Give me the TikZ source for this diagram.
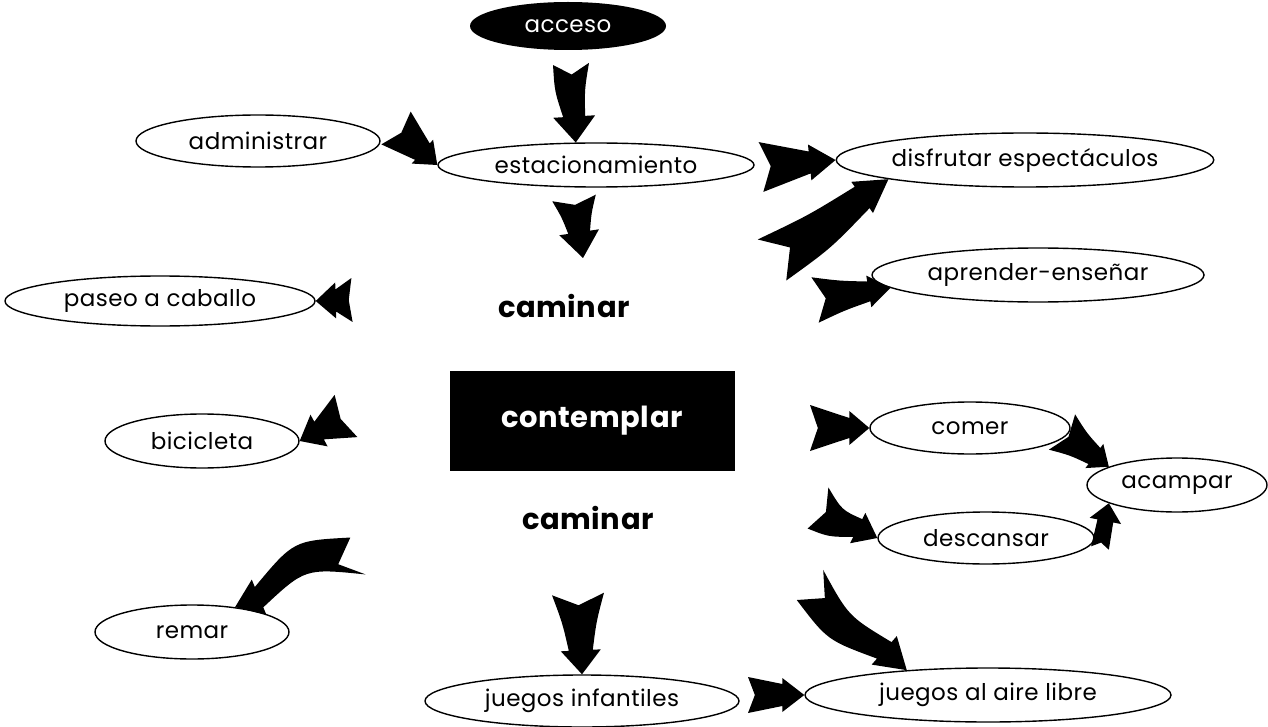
\documentclass[tikz,border=0pt]{standalone}
\usepackage{fontspec}
\setmainfont{Poppins}[LetterSpace=2]
\usetikzlibrary{shapes.geometric,calc}
% #1 tail, #2 tip, #3 head length, #4 tail half-width, #5 mid half-width,
% #6 body half-width at head, #7 head half-width, #8 bulge (left +)
\newcommand{\fatarrow}[8]{%
  \coordinate (fk) at ($(#2)!#3!(#1)$);
  \fill[black]
    ($(#1)!#4!90:(fk)$)
    .. controls ($(#1)!0.5!(fk) + (#1)!#8!90:(fk) - (#1) + (#1)!#5!90:(fk) - (#1)$) ..
    ($(fk)!#6!90:(#2)$) -- ($(fk)!#7!90:(#2)$) -- (#2) -- ($(fk)!#7!-90:(#2)$) -- ($(fk)!#6!-90:(#2)$)
    .. controls ($(#1)!0.5!(fk) + (#1)!#8!90:(fk) - (#1) + (#1)!#5!-90:(fk) - (#1)$) ..
    ($(#1)!#4!-90:(fk)$) -- ($(#1)!0.2!(fk)$) -- cycle;
}
\begin{document}
\begin{tikzpicture}[x=1pt,y=1pt,
  oval/.style={ellipse, draw=black, line width=1.4pt, inner sep=0pt, font=\fontsize{23}{26}\selectfont},
  boldlabel/.style={inner sep=0pt, font=\fontsize{29}{32}\selectfont\bfseries},
]
\useasboundingbox (0,0) rectangle (1268,-727);
\fill[white] (0,0) rectangle (1268,-727);

% nodes
\node[ellipse, fill=black, minimum width=196pt, minimum height=48pt, inner sep=0pt, text=white, font=\fontsize{23}{26}\selectfont] (acc) at (568,-26) {acceso};
\node[oval, minimum width=316pt, minimum height=44pt] (est) at (596,-165) {estacionamiento};
\node[oval, minimum width=244pt, minimum height=52pt] (adm) at (258,-141) {administrar};
\node[oval, minimum width=350pt, minimum height=54pt] (dis) at (1025,-160) {disfrutar espectáculos};
\node[oval, minimum width=332pt, minimum height=54pt] (apr) at (1038,-275) {aprender-enseñar};
\node[oval, minimum width=310pt, minimum height=50pt] (pas) at (160,-301) {paseo a caballo};
\node[oval, minimum width=194pt, minimum height=54pt] (bic) at (202,-441) {bicicleta};
\node[oval, minimum width=194pt, minimum height=54pt] (rem) at (192,-632) {remar};
\node[oval, minimum width=200pt, minimum height=52pt] (com) at (970,-428) {comer};
\node[oval, minimum width=180pt, minimum height=54pt] (aca) at (1177,-485) {acampar};
\node[oval, minimum width=216pt, minimum height=52pt] (des) at (986,-538) {descansar};
\node[oval, minimum width=314pt, minimum height=52pt] (jin) at (582,-701) {juegos infantiles};
\node[oval, minimum width=366pt, minimum height=54pt] (jal) at (988,-695) {juegos al aire libre};
\node[boldlabel] (cam1) at (564,-306) {caminar};
\node[rectangle, fill=black, minimum width=285pt, minimum height=100pt, inner sep=0pt, text=white, font=\fontsize{29}{32}\selectfont\bfseries] (con) at (592,-421) {contemplar};
\node[boldlabel] (cam2) at (588,-518) {caminar};

% tails and free ends
\coordinate (c1) at (571,-64);
\coordinate (c2) at (396,-128);
\coordinate (c3) at (574,-198);
\coordinate (h3) at (583,-258);
\coordinate (c4) at (761,-167);
\coordinate (c5) at (772,-260);
\coordinate (c6) at (815,-300);
\coordinate (c7) at (352,-300);
\coordinate (c8) at (346,-416);
\coordinate (c9) at (358,-556);
\coordinate (c10) at (578,-594);
\coordinate (c11) at (748,-695);
\coordinate (c12) at (810,-585);
\coordinate (c13) at (810,-428);
\coordinate (c14) at (818,-508);
\coordinate (c15) at (1062,-432);
\coordinate (c16) at (1100,-548);

% arrows: tail, tip, head length, tail hw, mid hw, body hw, head hw, bulge
\fatarrow{c1}{est.132}{26pt}{18pt}{15pt}{11pt}{21pt}{-3pt}
\fatarrow{c2}{est.west}{20pt}{22pt}{16pt}{11pt}{16pt}{0pt}
\fatarrow{c3}{h3}{26pt}{22pt}{15pt}{11pt}{20pt}{0pt}
\fatarrow{c4}{dis.west}{26pt}{25pt}{17pt}{11pt}{18pt}{0pt}
\fatarrow{c5}{dis.188}{32pt}{25pt}{20pt}{13pt}{19pt}{-4pt}
\fatarrow{c6}{apr.185}{22pt}{23pt}{15pt}{10pt}{16pt}{0pt}
\fatarrow{c7}{pas.east}{20pt}{22pt}{16pt}{11pt}{18pt}{0pt}
\fatarrow{c8}{bic.east}{22pt}{24pt}{16pt}{10pt}{18pt}{0pt}
\fatarrow{c9}{rem.30}{26pt}{20pt}{15pt}{11pt}{19pt}{-24pt}
\fatarrow{c10}{jin.north}{24pt}{26pt}{17pt}{12pt}{20pt}{0pt}
\fatarrow{c11}{jal.west}{22pt}{18pt}{14pt}{11pt}{17pt}{0pt}
\fatarrow{c12}{jal.163}{30pt}{20pt}{16pt}{11pt}{19pt}{-14pt}
\fatarrow{c13}{com.west}{20pt}{23pt}{16pt}{10pt}{17pt}{0pt}
\fatarrow{c14}{des.west}{22pt}{23pt}{15pt}{10pt}{17pt}{-6pt}
\fatarrow{c15}{aca.165}{18pt}{22pt}{14pt}{10pt}{15pt}{0pt}
\fatarrow{c16}{aca.195}{18pt}{9pt}{9pt}{8pt}{16pt}{0pt}
\end{tikzpicture}
\end{document}
